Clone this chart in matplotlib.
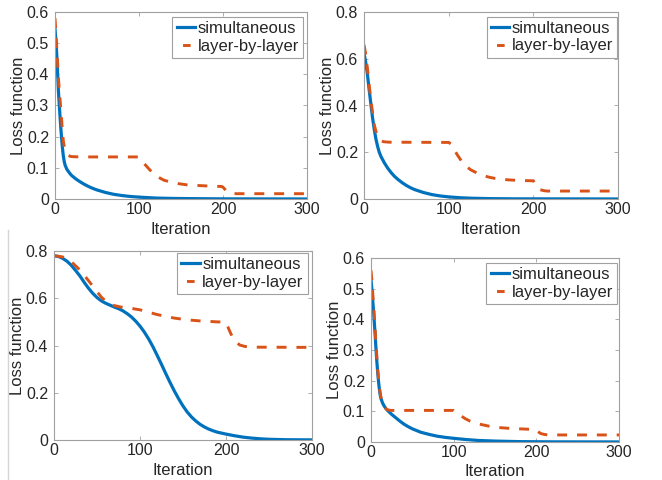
import matplotlib
matplotlib.use("Agg")
import matplotlib.pyplot as plt
from matplotlib.lines import Line2D

plt.rcParams['font.family'] = ['Liberation Sans', 'DejaVu Sans']

# ---------------- data ----------------
xticks = [0, 100, 200, 300]
xtick_labels = ['0', '100', '200', '300']

# panel 1 (top-left)
sim1_x = [0, 1, 2, 3, 4, 5, 6, 7, 8, 9, 10, 11, 12, 14, 16, 18, 20, 25, 30, 35, 40,
          45, 50, 60, 70, 80, 90, 100, 120, 140, 170, 200, 300]
sim1_y = [0.548, 0.51, 0.467, 0.41, 0.35, 0.305, 0.264, 0.225, 0.19, 0.16, 0.136,
          0.12, 0.109, 0.096, 0.088, 0.081, 0.075, 0.064, 0.055, 0.047, 0.04, 0.034,
          0.029, 0.021, 0.015, 0.011, 0.008, 0.006, 0.003, 0.0018, 0.001, 0.0005,
          0.0001]
lay1_x = [0, 1, 2, 4, 6, 8, 9, 10, 11, 12, 14, 16, 18, 20, 30, 99, 101, 104, 108, 112,
          116, 120, 125, 130, 137, 145, 158, 180, 199, 201, 204, 207, 211, 216, 300]
lay1_y = [0.58, 0.54, 0.49, 0.39, 0.32, 0.25, 0.21, 0.185, 0.168, 0.157, 0.146, 0.14,
          0.137, 0.136, 0.135, 0.135, 0.13, 0.12, 0.108, 0.096, 0.085, 0.076, 0.067,
          0.06, 0.055, 0.05, 0.045, 0.042, 0.04, 0.035, 0.026, 0.02, 0.018, 0.017,
          0.017]
yticks1 = [0, 0.1, 0.2, 0.3, 0.4, 0.5, 0.6]
ytick_labels1 = ['0', '0.1', '0.2', '0.3', '0.4', '0.5', '0.6']

# panel 2 (top-right)
sim2_x = [0, 2, 4, 6, 8, 10, 12, 14, 16, 18, 20, 24, 28, 32, 36, 40, 45, 50, 55, 60,
          70, 80, 90, 100, 115, 130, 150, 180, 300]
sim2_y = [0.624, 0.585, 0.535, 0.47, 0.41, 0.35, 0.3, 0.258, 0.226, 0.2, 0.182, 0.155,
          0.132, 0.113, 0.097, 0.084, 0.07, 0.058, 0.048, 0.04, 0.028, 0.019, 0.013,
          0.009, 0.005, 0.003, 0.0015, 0.0007, 0.0002]
lay2_x = [0, 2, 4, 6, 8, 10, 12, 14, 16, 18, 20, 23, 30, 100, 103, 106, 110, 115, 120,
          126, 133, 140, 148, 155, 170, 185, 200, 202, 205, 208, 212, 216, 300]
lay2_y = [0.66, 0.62, 0.56, 0.49, 0.43, 0.37, 0.32, 0.29, 0.27, 0.258, 0.25, 0.245,
          0.243, 0.242, 0.235, 0.215, 0.19, 0.163, 0.142, 0.125, 0.112, 0.101, 0.093,
          0.088, 0.082, 0.079, 0.078, 0.068, 0.05, 0.04, 0.036, 0.034, 0.034]
yticks2 = [0, 0.2, 0.4, 0.6, 0.8]
ytick_labels2 = ['0', '0.2', '0.4', '0.6', '0.8']

# panel 3 (bottom-left)
sim3_x = [0, 5, 10, 15, 20, 25, 30, 35, 40, 45, 50, 55, 60, 65, 70, 75, 80, 85, 90,
          95, 100, 105, 110, 115, 120, 125, 130, 135, 140, 145, 150, 155, 160, 165,
          170, 175, 180, 185, 190, 200, 210, 220, 230, 240, 250, 270, 300]
sim3_y = [0.78, 0.777, 0.769, 0.757, 0.74, 0.718, 0.695, 0.668, 0.643, 0.621, 0.603,
          0.589, 0.579, 0.571, 0.563, 0.556, 0.547, 0.535, 0.521, 0.503, 0.482, 0.457,
          0.428, 0.395, 0.358, 0.32, 0.281, 0.243, 0.207, 0.174, 0.144, 0.118, 0.097,
          0.08, 0.066, 0.055, 0.046, 0.039, 0.033, 0.025, 0.018, 0.012, 0.008, 0.005,
          0.003, 0.0012, 0.0005]
lay3_x = [0, 10, 20, 30, 40, 50, 55, 60, 65, 70, 80, 90, 100, 110, 120, 130, 140, 150,
          160, 170, 180, 190, 199, 202, 205, 208, 212, 216, 222, 230, 300]
lay3_y = [0.78, 0.775, 0.755, 0.72, 0.675, 0.628, 0.605, 0.588, 0.577, 0.569, 0.561,
          0.557, 0.551, 0.541, 0.531, 0.523, 0.516, 0.511, 0.507, 0.504, 0.502, 0.5,
          0.499, 0.48, 0.455, 0.432, 0.414, 0.402, 0.396, 0.393, 0.392]
yticks3 = [0, 0.2, 0.4, 0.6, 0.8]
ytick_labels3 = ['0', '0.2', '0.4', '0.6', '0.8']

# panel 4 (bottom-right)
sim4_x = [0, 1, 2, 3, 4, 5, 6, 7, 8, 9, 10, 11, 12, 14, 16, 18, 20, 25, 30, 35, 40,
          45, 50, 60, 70, 80, 90, 100, 115, 130, 150, 180, 220, 300]
sim4_y = [0.53, 0.5, 0.465, 0.43, 0.39, 0.35, 0.305, 0.265, 0.23, 0.2, 0.175, 0.155,
          0.142, 0.127, 0.117, 0.109, 0.103, 0.09, 0.079, 0.068, 0.058, 0.05, 0.043,
          0.032, 0.025, 0.019, 0.015, 0.012, 0.008, 0.005, 0.003, 0.0012, 0.0005,
          0.0002]
lay4_x = [0, 1, 2, 3, 4, 5, 6, 7, 8, 9, 10, 11, 12, 14, 16, 18, 20, 24, 100, 103, 108,
          114, 120, 130, 142, 155, 170, 188, 200, 202, 205, 209, 214, 300]
lay4_y = [0.56, 0.53, 0.49, 0.45, 0.41, 0.365, 0.32, 0.28, 0.24, 0.21, 0.183, 0.162,
          0.147, 0.128, 0.116, 0.109, 0.105, 0.103, 0.103, 0.097, 0.087, 0.076, 0.068,
          0.059, 0.052, 0.047, 0.044, 0.042, 0.04, 0.034, 0.028, 0.025, 0.023, 0.023]
yticks4 = [0, 0.1, 0.2, 0.3, 0.4, 0.5, 0.6]
ytick_labels4 = ['0', '0.1', '0.2', '0.3', '0.4', '0.5', '0.6']

series_labels = ['simultaneous', 'layer-by-layer']
xlabel_text = 'Iteration'
ylabel_text = 'Loss function'

# ---------------- style ----------------
BLUE = '#0072BD'
ORANGE = '#D95319'
TXT = '#262626'
BOX = '#a0a0a0'
W, H = 662, 480

fig = plt.figure(figsize=(W / 100, H / 100), dpi=100)


def px_axes(left, right, top, bottom):
    return fig.add_axes([left / W, 1 - bottom / H, (right - left) / W, (bottom - top) / H])


panels = [
    dict(box=(55, 307, 12, 199), sx=sim1_x, sy=sim1_y, lx=lay1_x, ly=lay1_y,
         yt=yticks1, ytl=ytick_labels1, ylim=0.6, leg=(0.984, 0.973),
         xl=-0.123, yl=-0.115),
    dict(box=(364, 618, 12, 199), sx=sim2_x, sy=sim2_y, lx=lay2_x, ly=lay2_y,
         yt=yticks2, ytl=ytick_labels2, ylim=0.8, leg=(0.998, 0.975),
         xl=-0.123, yl=-0.114),
    dict(box=(54, 312, 251, 440), sx=sim3_x, sy=sim3_y, lx=lay3_x, ly=lay3_y,
         yt=yticks3, ytl=ytick_labels3, ylim=0.8, leg=(0.984, 0.989),
         xl=-0.122, yl=-0.112),
    dict(box=(371, 619, 258, 442), sx=sim4_x, sy=sim4_y, lx=lay4_x, ly=lay4_y,
         yt=yticks4, ytl=ytick_labels4, ylim=0.6, leg=(0.992, 0.973),
         xl=-0.12, yl=-0.117),
]

for p in panels:
    ax = px_axes(*p['box'])
    ax.plot(p['sx'], p['sy'], color=BLUE, lw=2.3, solid_capstyle='butt',
            solid_joinstyle='round')
    ax.plot(p['lx'], p['ly'], color=ORANGE, lw=2.1, dashes=(3.4, 3.4),
            dash_capstyle='butt', dash_joinstyle='round')
    ax.set_xlim(0, 300)
    ax.set_ylim(0, p['ylim'])
    ax.set_xticks(xticks)
    ax.set_xticklabels(xtick_labels)
    ax.set_yticks(p['yt'])
    ax.set_yticklabels(p['ytl'])
    ax.tick_params(direction='in', length=3, width=0.6, color=BOX, labelsize=11.5,
                   labelcolor=TXT, top=True, right=True)
    ax.tick_params(axis='x', pad=2.5)
    ax.tick_params(axis='y', pad=4.3)
    for s in ax.spines.values():
        s.set_color(BOX)
        s.set_linewidth(0.8)
    ax.set_xlabel(xlabel_text, fontsize=12, color=TXT)
    ax.set_ylabel(ylabel_text, fontsize=12, color=TXT)
    ax.xaxis.set_label_coords(0.5, p['xl'])
    ax.yaxis.set_label_coords(p['yl'], 0.5)

    h_sim = Line2D([], [], color=BLUE, lw=2.3)
    h_lay = Line2D([], [], color=ORANGE, lw=2.1, linestyle=(10.7, (2.6, 10)),
                   dash_capstyle='butt')
    leg = ax.legend([h_sim, h_lay], series_labels, loc='upper right',
                    bbox_to_anchor=p['leg'], borderaxespad=0, fontsize=12,
                    frameon=True, fancybox=False, framealpha=1, edgecolor=BOX,
                    handlelength=1.1, handletextpad=0.15, borderpad=0.25,
                    labelspacing=0.15)
    leg.get_frame().set_linewidth(0.8)
    for t in leg.get_texts():
        t.set_color(TXT)

# thin grey border line at the left of the lower half
fig.add_artist(Line2D([8 / W, 8 / W], [0, 1 - 230 / H], color='#d5d5d5', lw=1.0))

fig.savefig('out.png', dpi=100)
